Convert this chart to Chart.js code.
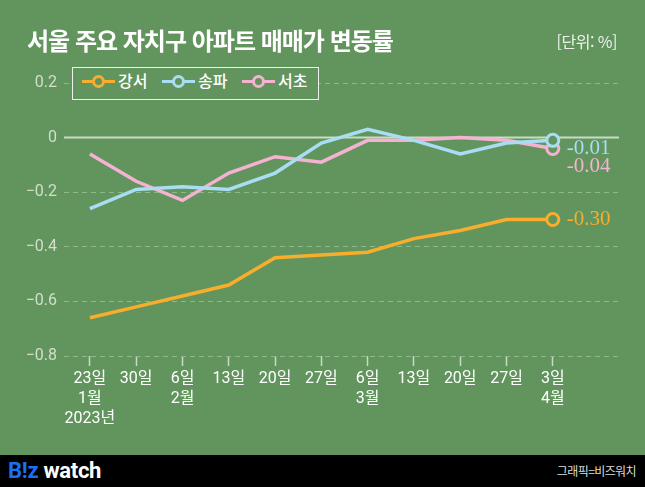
<!DOCTYPE html>
<html lang="ko">
<head>
  <meta charset="UTF-8" />
  <meta name="viewport" content="width=device-width, initial-scale=1.0" />
  <title>서울 주요 자치구 아파트 매매가 변동률</title>
  <script src="https://cdn.jsdelivr.net/npm/chart.js"></script>
  <style>
    body {
      margin: 0;
      width: 645px;
      height: 487px;
      background: #62955d;
      overflow: hidden;
      position: relative;
      font-family: Roboto, "Noto Sans CJK KR", sans-serif;
    }
    #wrap {
      position: absolute;
      left: 0;
      top: 0;
      width: 645px;
      height: 455px;
    }
    h1 {
      position: absolute;
      left: 27px;
      top: 27px;
      margin: 0;
      font: bold 24px "Noto Sans CJK KR", sans-serif;
      line-height: 26px;
      letter-spacing: -1px;
      color: #fff;
    }
    .unit {
      position: absolute;
      right: 28px;
      top: 31px;
      font: 16px "Noto Sans CJK KR", sans-serif;
      line-height: 20px;
      letter-spacing: -0.5px;
      color: #eef2ec;
    }
    .legend {
      position: absolute;
      left: 72px;
      top: 67px;
      width: 245px;
      height: 31px;
      border: 1px solid #eef2ec;
      background: #62955d;
    }
    .item {
      position: absolute;
      top: 0;
      height: 31px;
      line-height: 31px;
      color: #fff;
      font: 500 16px "Noto Sans CJK KR", sans-serif;
      white-space: nowrap;
    }
    .mark {
      display: inline-block;
      position: relative;
      width: 33px;
      height: 13px;
      vertical-align: -1px;
      margin-right: 3px;
    }
    .mark::before {
      content: '';
      position: absolute;
      left: 0;
      right: 0;
      top: 5px;
      height: 3px;
      background: var(--c);
    }
    .mark::after {
      content: '';
      position: absolute;
      left: 10px;
      top: 0;
      width: 7px;
      height: 7px;
      border: 3px solid var(--c);
      border-radius: 50%;
      background: #62955d;
    }
    footer {
      position: absolute;
      left: 0;
      top: 455px;
      width: 645px;
      height: 32px;
      background: #000;
    }
    .logo {
      position: absolute;
      left: 8px;
      top: 4px;
      font: bold 22px Roboto, sans-serif;
      line-height: 24px;
      color: #fff;
      letter-spacing: -0.3px;
    }
    .logo span { color: #1b6ff2; }
    .credit {
      position: absolute;
      right: 9px;
      top: 8px;
      font: 12px "Noto Sans CJK KR", sans-serif;
      line-height: 16px;
      letter-spacing: -0.6px;
      color: #ddd;
    }
  </style>
</head>
<body>
  <div id="wrap"><canvas id="chart" width="645" height="455"></canvas></div>
  <h1>서울 주요 자치구 아파트 매매가 변동률</h1>
  <div class="unit">[단위: %]</div>
  <div class="legend" id="legend"></div>
  <footer>
    <div class="logo"><span>B!z</span> watch</div>
    <div class="credit">그래픽=비즈워치</div>
  </footer>

  <script>
    // tick labels (x axis, three rows)
    const dayLabels = ['23일', '30일', '6일', '13일', '20일', '27일', '6일', '13일', '20일', '27일', '3일'];
    const monthLabels = ['1월', '', '2월', '', '', '', '3월', '', '', '', '4월'];
    const yearLabels = ['2023년', '', '', '', '', '', '', '', '', '', ''];

    const seriesNames = ['강서', '송파', '서초'];
    const seriesColors = ['#f8ad2d', '#a9ddf3', '#f5b2d3'];

    const gangseo = [-0.66, -0.62, -0.58, -0.54, -0.44, -0.43, -0.42, -0.37, -0.34, -0.30, -0.30];
    const songpa = [-0.26, -0.19, -0.18, -0.19, -0.13, -0.02, 0.03, -0.01, -0.06, -0.02, -0.01];
    const seocho = [-0.06, -0.16, -0.23, -0.13, -0.07, -0.09, -0.01, -0.01, 0.00, -0.01, -0.04];

    const bg = '#62955d';
    const allSeries = [gangseo, songpa, seocho];

    // html legend
    const legend = document.getElementById('legend');
    seriesNames.forEach((name, i) => {
      const item = document.createElement('div');
      item.className = 'item';
      item.style.left = (9 + i * 80) + 'px';
      item.innerHTML = `<span class="mark" style="--c:${seriesColors[i]}"></span>${name}`;
      legend.appendChild(item);
    });

    const zeroLine = {
      id: 'zeroLine',
      beforeDatasetsDraw(chart) {
        const { ctx, chartArea, scales } = chart;
        const y = scales.y.getPixelForValue(0);
        ctx.save();
        ctx.strokeStyle = '#cadcc3';
        ctx.lineWidth = 2;
        ctx.beginPath();
        ctx.moveTo(chartArea.left, y);
        ctx.lineTo(chartArea.right, y);
        ctx.stroke();
        ctx.restore();
      }
    };

    // value labels next to the last point
    const labelShift = [0, 8, 18];
    const endLabels = {
      id: 'endLabels',
      afterDatasetsDraw(chart) {
        const ctx = chart.ctx;
        allSeries.forEach((vals, i) => {
          const meta = chart.getDatasetMeta(i);
          const pt = meta.data[meta.data.length - 1];
          const v = vals[vals.length - 1];
          ctx.save();
          ctx.font = '21px "Liberation Serif", serif';
          ctx.fillStyle = seriesColors[i];
          ctx.textBaseline = 'middle';
          ctx.fillText((v < 0 ? '-' : '') + Math.abs(v).toFixed(2), pt.x + 14, pt.y + labelShift[i]);
          ctx.restore();
        });
      }
    };

    new Chart(document.getElementById('chart'), {
      type: 'line',
      data: {
        datasets: allSeries.map((vals, i) => ({
          label: seriesNames[i],
          data: vals.map((v, j) => ({ x: j, y: v })),
          borderColor: seriesColors[i],
          backgroundColor: bg,
          borderWidth: 3.5,
          tension: 0,
          pointRadius: vals.map((v, j) => j === vals.length - 1 ? 6 : 0),
          pointBorderWidth: 3,
          pointBackgroundColor: bg,
          pointBorderColor: seriesColors[i]
        }))
      },
      options: {
        responsive: false,
        animation: false,
        layout: { padding: { top: 83, right: 26, left: 0, bottom: 0 } },
        plugins: {
          legend: { display: false },
          tooltip: { enabled: false }
        },
        scales: {
          x: {
            type: 'linear',
            min: -0.56,
            max: 11.43,
            afterBuildTicks: (scale) => {
              scale.ticks = dayLabels.map((d, i) => ({ value: i }));
            },
            afterFit: (scale) => { scale.height = 99; },
            grid: {
              drawOnChartArea: false,
              drawTicks: true,
              tickLength: 10,
              tickWidth: 1.5,
              tickColor: '#cad8c5',
              color: '#cad8c5'
            },
            border: { display: false },
            ticks: {
              autoSkip: false,
              maxRotation: 0,
              padding: 3,
              color: '#ffffff',
              font: { family: 'Roboto, "Noto Sans CJK KR"', size: 16, lineHeight: 1.25 },
              callback: (value, index) => {
                const lines = [dayLabels[index], monthLabels[index], yearLabels[index]];
                return lines.filter(s => s !== '');
              }
            }
          },
          y: {
            min: -0.8,
            max: 0.2,
            afterFit: (scale) => { scale.width = 64; },
            grid: {
              drawTicks: false,
              color: '#8db888',
              lineWidth: 1,
              borderDash: [5, 4]
            },
            border: { display: false, dash: [5, 4] },
            ticks: {
              stepSize: 0.2,
              padding: 7,
              color: '#d3dfcd',
              font: { family: 'Roboto', size: 16 },
              callback: (v) => {
                if (Math.abs(v) < 1e-9) return '0';
                return (v < 0 ? '−' : '') + Math.abs(v).toFixed(1);
              }
            }
          }
        }
      },
      plugins: [zeroLine, endLabels]
    });
  </script>
</body>
</html>
